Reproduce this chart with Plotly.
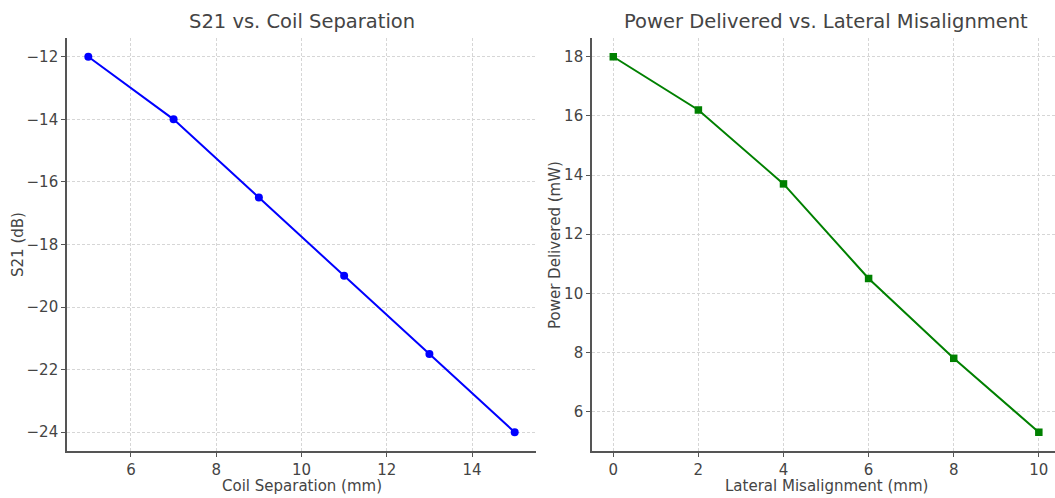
import plotly.graph_objects as go

# Data
sep_mm = [5, 7, 9, 11, 13, 15]
s21_db = [-12, -14, -16.5, -19, -21.5, -24]
mis_mm = [0, 2, 4, 6, 8, 10]
power_mw = [18, 16.2, 13.7, 10.5, 7.8, 5.3]

W, H = 1055, 498
FONT = "DejaVu Sans"
TXT = "#444444"
SPINE = "#555555"
GRID = "#d6d6d6"

fig = go.Figure()
fig.add_trace(go.Scatter(x=sep_mm, y=s21_db, mode="lines+markers",
                         line=dict(color="#0000ff", width=2),
                         marker=dict(symbol="circle", size=8, color="#0000ff"),
                         xaxis="x", yaxis="y", showlegend=False))
fig.add_trace(go.Scatter(x=mis_mm, y=power_mw, mode="lines+markers",
                         line=dict(color="#008000", width=2),
                         marker=dict(symbol="square", size=7.5, color="#008000"),
                         xaxis="x2", yaxis="y2", showlegend=False))

def px_x(p):
    return p / W

def px_y(p):
    return (H - p) / H

axis_common = dict(showline=True, linecolor=SPINE, linewidth=1.6, mirror=False,
                   ticks="outside", ticklen=4, tickwidth=1, tickcolor=SPINE,
                   showgrid=True, gridcolor=GRID, gridwidth=0.8, griddash="3px,2px",
                   zeroline=False, tickfont=dict(family=FONT, size=15, color=TXT))

ydom = [px_y(451), px_y(38)]
fig.update_layout(
    width=W, height=H, margin=dict(l=0, r=0, t=0, b=0),
    paper_bgcolor="white", plot_bgcolor="white",
    font=dict(family=FONT, color=TXT),
    xaxis=dict(domain=[px_x(67), px_x(536)], range=[4.5, 15.5], anchor="y",
               tickvals=[6, 8, 10, 12, 14], **axis_common),
    yaxis=dict(domain=ydom, range=[-24.6, -11.4], anchor="x",
               tickvals=[-24, -22, -20, -18, -16, -14, -12], **axis_common),
    xaxis2=dict(domain=[px_x(592), 1.0], range=[-0.5, 10.38], anchor="y2",
                tickvals=[0, 2, 4, 6, 8, 10], **axis_common),
    yaxis2=dict(domain=ydom, range=[4.665, 18.635], anchor="x2",
                tickvals=[6, 8, 10, 12, 14, 16, 18], **axis_common),
)

ann = [
    dict(text="S21 vs. Coil Separation", x=px_x(301.5), y=px_y(22), size=19.5),
    dict(text="Power Delivered vs. Lateral Misalignment", x=px_x(826), y=px_y(22), size=19.5),
    dict(text="Coil Separation (mm)", x=px_x(301.5), y=px_y(486), size=15),
    dict(text="Lateral Misalignment (mm)", x=px_x(826), y=px_y(486), size=15),
]
for a in ann:
    fig.add_annotation(text=a["text"], x=a["x"], y=a["y"], xref="paper", yref="paper",
                       xanchor="center", yanchor="middle", showarrow=False,
                       font=dict(family=FONT, size=a["size"], color=TXT))
fig.add_annotation(text="S21 (dB)", x=px_x(18), y=px_y(245), xref="paper", yref="paper",
                   xanchor="center", yanchor="middle", showarrow=False, textangle=-90,
                   font=dict(family=FONT, size=15, color=TXT))
fig.add_annotation(text="Power Delivered (mW)", x=px_x(555), y=px_y(245), xref="paper", yref="paper",
                   xanchor="center", yanchor="middle", showarrow=False, textangle=-90,
                   font=dict(family=FONT, size=15, color=TXT))

fig.write_html("out.html")
